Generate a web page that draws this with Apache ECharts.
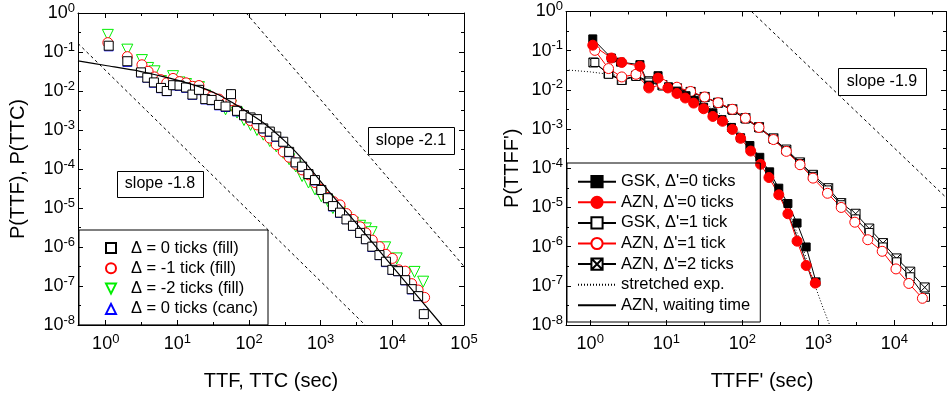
<!DOCTYPE html>
<html><head><meta charset="utf-8">
<script src="https://cdn.jsdelivr.net/npm/echarts@6/dist/echarts.min.js"></script>
<style>html,body{margin:0;padding:0;background:#fff}#c{width:948px;height:396px}</style>
</head><body><div id="c"></div>
<script>
// ---------- Left panel data ----------
const fill0X = [1.1,2.0,3.1,3.8,4.7,5.9,7.1,8.7,10.7,13.2,16.2,20,24.5,30,38,47,56,68,85,105,129,158,195,240,300,363,447,550,676,832,1020,1260,1480,1860,2290,2820,3550,4270,5250,6610,8130,10000,12000,15100,18600,22900,27500];
const fill0Y = [0.145,0.058,0.030,0.022,0.0166,0.012,0.010,0.0141,0.0138,0.0123,0.0081,0.0107,0.0062,0.0059,0.0044,0.0040,0.0083,0.0031,0.0024,0.0021,0.0019,0.0011,9.1e-4,6.8e-4,5.0e-4,2.75e-4,1.48e-4,1.15e-4,7.4e-5,5.2e-5,2.9e-5,1.78e-5,1.12e-5,7.6e-6,5.1e-6,3.5e-6,2.3e-6,1.58e-6,1.02e-6,6.2e-7,4.2e-7,2.6e-7,2.4e-7,1.41e-7,8.3e-8,5.5e-8,1.9e-8];
const fill1X = [1.07,2.0,3.2,3.9,4.8,5.9,7.1,8.7,10.7,13.2,16.2,20,24.5,30,38,47,56,68,85,105,129,158,195,240,300,363,447,550,676,832,1020,1260,1510,1860,2290,2820,3550,4270,5250,6610,8130,10000,12300,15100,18600,22900,28200];
const fill1Y = [0.174,0.076,0.047,0.032,0.023,0.0195,0.0162,0.021,0.0174,0.0162,0.0132,0.0138,0.0081,0.0071,0.0062,0.0048,0.0056,0.0032,0.0024,0.00174,0.00135,9.1e-4,6.2e-4,4.2e-4,2.75e-4,2.0e-4,1.32e-4,9.5e-5,7.1e-5,4.5e-5,3.0e-5,1.86e-5,1.45e-5,1.2e-5,7.2e-6,5.1e-6,3.3e-6,2.3e-6,1.5e-6,1.02e-6,6.5e-7,5.1e-7,2.6e-7,2.4e-7,1.15e-7,7.9e-8,5.1e-8];
const fill2X = [1.07,2.0,3.2,3.9,4.8,5.9,7.1,8.7,10.7,13.2,16.2,20,24.5,30,38,47,56,68,85,105,129,158,195,240,300,363,447,550,676,832,1020,1260,1480,1860,2290,2820,3550,4270,5130,7940,11500,20400,26900];
const fill2Y = [0.275,0.115,0.062,0.039,0.032,0.018,0.0148,0.024,0.0166,0.0151,0.012,0.0126,0.0076,0.006,0.0047,0.0034,0.0042,0.0028,0.0018,0.00135,0.001,7.6e-4,5.2e-4,3.8e-4,2.6e-4,1.78e-4,1.17e-4,6.6e-5,4.5e-5,3.0e-5,2.0e-5,1.5e-5,1.0e-5,7.9e-6,5.6e-6,4.2e-6,3.5e-6,3.0e-6,2.4e-6,9.8e-7,5.1e-7,2.3e-7,1.29e-7];
const canc0X = [1.1,2.0,3.1,3.8,4.7,5.9,7.1,8.7,10.7,13.2,16.2,20,24.5,30,38,47,56,68,85,105,129,158,195,240,300,363,447,550,676,832,1020,1260,1480,1860,2290,2820,3550,4270,5250,6610,8130,10000,12000,15100,18600,22900,27500];
const canc0Y = [0.14,0.056,0.030,0.022,0.0163,0.0118,0.0099,0.014,0.0136,0.0121,0.008,0.0105,0.0061,0.0058,0.0043,0.0039,0.0085,0.003,0.0024,0.0021,0.0019,0.0011,9e-4,6.7e-4,5.1e-4,2.7e-4,1.5e-4,1.15e-4,7.5e-5,5.1e-5,2.9e-5,1.8e-5,1.1e-5,7.5e-6,5.2e-6,3.5e-6,2.3e-6,1.6e-6,1.0e-6,6.2e-7,4.1e-7,2.6e-7,2.4e-7,1.4e-7,8.2e-8,5.5e-8,2.0e-8];
const fitX = [0.41,1,3,8,20,35,60,100,174,316,513,1500,3160,10000,49000];
const fitY = [0.059,0.045,0.032,0.021,0.0129,0.0085,0.0049,0.0027,0.00135,5.2e-4,2.1e-4,1.95e-5,4.0e-6,3.2e-7,1e-8];
const slope18X = [0.41,4170], slope18Y = [0.166,1e-8];
const slope21X = [91,100000], slope21Y = [1,3.2e-7];

// ---------- Right panel data ----------
const gsk0X = [1.08,1.9,2.5,4.5,5.9,7.8,10.7,13.8,18.2,23.4,31,41,54,72,95,126,170,229,302,398,525,692,933];
const gsk0Y = [0.20,0.065,0.051,0.044,0.0132,0.023,0.012,0.0093,0.0071,0.0054,0.0036,0.0026,0.00174,0.0011,6.0e-4,3.8e-4,1.9e-4,8.1e-5,3.1e-5,1.26e-5,4.0e-6,9.8e-7,1.26e-7];
const azn0X = [1.08,1.9,2.6,4.5,5.9,7.8,10.5,13.8,17.8,22.9,31,41,55,74,95,129,174,224,302,398,525,692,912];
const azn0Y = [0.138,0.065,0.050,0.040,0.0117,0.020,0.0112,0.0081,0.0062,0.0046,0.0033,0.0021,0.00158,9.8e-4,5.8e-4,2.75e-4,1.26e-4,5.8e-5,2.1e-5,6.9e-6,1.38e-6,3.3e-7,1.17e-7];
const gsk1X = [1.15,1.74,2.6,4.0,5.9,8.9,13.8,20.9,32,48,74,110,166,257,380,575,851,1320,2000,3090,4680,7080,10700,16200,25700];
const gsk1Y = [0.05,0.025,0.0174,0.022,0.0158,0.0126,0.0105,0.0087,0.0065,0.0046,0.0030,0.0018,0.00107,5.5e-4,2.8e-4,1.32e-4,6.2e-5,2.8e-5,1.17e-5,5.1e-6,2.3e-6,9.8e-7,4.1e-7,1.7e-7,5.1e-8];
const azn1X = [1.15,1.74,2.6,4.0,5.9,8.9,13.8,20.9,32,48,74,110,166,257,380,575,851,1320,2000,3020,4470,6920,10500,15500,23400];
const azn1Y = [0.102,0.035,0.0214,0.025,0.0112,0.0138,0.0117,0.0091,0.0066,0.0047,0.0032,0.0019,0.0011,5.4e-4,2.7e-4,1.23e-4,5.6e-5,2.3e-5,1.0e-5,4.2e-6,1.5e-6,7.6e-7,2.7e-7,1.15e-7,4.8e-8];
const azn2X = [1.1,1.74,2.6,4.0,5.9,8.9,13.8,20.9,32,48,74,110,166,257,380,575,851,1350,2000,3090,4680,7080,10700,16200,25100];
const azn2Y = [0.050,0.026,0.018,0.023,0.0166,0.0132,0.011,0.0089,0.0066,0.0047,0.0032,0.0019,0.00112,5.8e-4,3.0e-4,1.41e-4,6.8e-5,3.1e-5,1.29e-5,6.9e-6,2.9e-6,1.23e-6,5.0e-7,2.3e-7,9.1e-8];
const stretchX = [0.48,1,2.5,5.9,11.2,20,31,50,85,155,229,309,417,631,851,1120,1410];
const stretchY = [0.0324,0.0288,0.0229,0.017,0.0123,0.0079,0.0048,0.0025,0.001,2.5e-4,7.9e-5,2.7e-5,7.1e-6,8.9e-7,1.41e-7,3.2e-8,1e-8];
const waitX = [7.1,11.2,31,85,155,229,309,417,631,851];
const waitY = [0.0158,0.0132,0.0042,8.7e-4,2.2e-4,6.5e-5,2.2e-5,5.6e-6,6.6e-7,1.15e-7];
const slope19X = [132,47800], slope19Y = [1,1.8e-5];

// ---------- Axis ticks ----------
const xMajorL = [1,10,100,1000,10000,100000];
const xMinorL = [3.162,31.62,316.2,3162,31623];
const xMajorR = [1,10,100,1000,10000];
const xMinorR = [3.162,31.62,316.2,3162,31623];
const yMajor = [1e-8,1e-7,1e-6,1e-5,1e-4,1e-3,1e-2,1e-1,1];
const yMinor = [3.162e-8,3.162e-7,3.162e-6,3.162e-5,3.162e-4,3.162e-3,3.162e-2,3.162e-1];

const names = {
  left: ['Δ = 0 ticks (fill)','Δ = -1 tick (fill)','Δ = -2 ticks (fill)','Δ = 0 ticks (canc)'],
  right: ["GSK, Δ'=0 ticks","AZN, Δ'=0 ticks","GSK, Δ'=1 tick","AZN, Δ'=1 tick","AZN, Δ'=2 ticks","stretched exp.","AZN, waiting time"]
};
const titles = {lx:'TTF, TTC (sec)', ly:'P(TTF), P(TTC)', rx:"TTFF' (sec)", ry:"P(TTFF')"};
const slopes = ['slope -1.8','slope -2.1','slope -1.9'];

// ---------- build ----------
const FONT = 'Liberation Sans';
const zip = (xs, ys) => xs.map((x, i) => [x, ys[i]]);
const fmt = v => '{b|10}{s|' + Math.round(Math.log10(v)) + '}';
const rich = {
  b: {fontSize: 18, fontFamily: FONT, color: '#000'},
  s: {fontSize: 13, fontFamily: FONT, color: '#000', padding: [0, 0, 10, 0]}
};
const blk = {color: '#000', width: 1};

function axisSet(dim, gi, min, max, majors, minors, name, nameGap, namePad) {
  const base = {type: 'log', logBase: 10, gridIndex: gi, min: min, max: max,
    splitLine: {show: false}, axisLine: {show: false}, axisLabel: {show: false},
    axisTick: {show: false}, silent: true};
  const lo = dim === 'x' ? 'bottom' : 'left';
  const hi = dim === 'x' ? 'top' : 'right';
  return [
    Object.assign({}, base, {position: lo,
      axisLine: {show: true, onZero: false, lineStyle: blk},
      axisTick: {show: true, inside: true, length: 5, customValues: majors, lineStyle: blk},
      axisLabel: {show: true, customValues: majors, formatter: fmt, rich: rich, margin: dim === 'x' ? 8 : 3},
      name: name, nameLocation: 'middle', nameGap: nameGap,
      nameTextStyle: {fontSize: 20, fontFamily: FONT, color: '#000', padding: namePad || 0}}),
    Object.assign({}, base, {position: lo,
      axisTick: {show: true, inside: true, length: 3, customValues: minors, lineStyle: blk}}),
    Object.assign({}, base, {position: hi,
      axisLine: {show: true, onZero: false, lineStyle: blk},
      axisTick: {show: true, inside: true, length: 5, customValues: majors, lineStyle: blk}}),
    Object.assign({}, base, {position: hi,
      axisTick: {show: true, inside: true, length: 3, customValues: minors, lineStyle: blk}})
  ];
}

const xAxes = [].concat(
  axisSet('x', 0, 0.41, 100000, xMajorL, xMinorL, titles.lx, 46),
  axisSet('x', 1, 0.48, 47800, xMajorR, xMinorR, titles.rx, 46, [0, 0, 0, 12])
);
const yAxes = [].concat(
  axisSet('y', 0, 1e-8, 1, yMajor, yMinor, titles.ly, 50),
  axisSet('y', 1, 1e-8, 1, yMajor, yMinor, titles.ry, 44)
);

const downTri = 'path://M0 0L10 0L5 10Z';
const crossSq = 'path://M0 0H10V10H0Z M0 0L10 10 M10 0L0 10';

function scatter(name, xs, ys, symbol, size, color) {
  return {name: name, type: 'scatter', xAxisIndex: 0, yAxisIndex: 0, data: zip(xs, ys),
    symbol: symbol, symbolSize: size,
    itemStyle: {color: '#fff', borderColor: color, borderWidth: 1, opacity: 1},
    emphasis: {disabled: true}};
}
function lineSer(name, xs, ys, symbol, size, color, fillc, gi) {
  return {name: name, type: 'line', xAxisIndex: gi * 4, yAxisIndex: gi * 4, data: zip(xs, ys),
    symbol: symbol, symbolSize: size, showSymbol: true, showAllSymbol: true,
    lineStyle: {color: color, width: 1}, itemStyle: {color: fillc, borderColor: color, borderWidth: 1},
    emphasis: {disabled: true}};
}
function plainLine(name, xs, ys, type, gi, smooth, width) {
  return {name: name, type: 'line', xAxisIndex: gi * 4, yAxisIndex: gi * 4, data: zip(xs, ys),
    symbol: 'circle', symbolSize: 0, showSymbol: false, smooth: smooth || false,
    lineStyle: {color: '#000', width: width || 1, type: type},
    itemStyle: {color: 'rgba(0,0,0,0)', borderColor: 'rgba(0,0,0,0)', borderWidth: 0},
    emphasis: {disabled: true}};
}

const series = [
  plainLine('s18', slope18X, slope18Y, [3, 3], 0),
  plainLine('s21', slope21X, slope21Y, [3, 3], 0),
  scatter(names.left[2], fill2X, fill2Y, downTri, 11, '#00ee00'),
  scatter(names.left[1], fill1X, fill1Y, 'circle', 10, '#ff0000'),
  scatter(names.left[3], canc0X, canc0Y, 'triangle', 9, '#0000ff'),
  scatter(names.left[0], fill0X, fill0Y, 'rect', 9, '#000000'),
  plainLine('fit', fitX, fitY, 'solid', 0, 0.25, 1.2),
  plainLine('s19', slope19X, slope19Y, [3, 3], 1),
  plainLine(names.right[5], stretchX, stretchY, [1, 2], 1),
  plainLine(names.right[6], waitX, waitY, 'solid', 1, 0.3),
  lineSer(names.right[4], azn2X, azn2Y, crossSq, 9, '#000', '#fff', 1),
  lineSer(names.right[2], gsk1X, gsk1Y, 'rect', 8, '#000', '#fff', 1),
  lineSer(names.right[3], azn1X, azn1Y, 'circle', 10, '#ff0000', '#fff', 1),
  lineSer(names.right[0], gsk0X, gsk0Y, 'rect', 8, '#000', '#000', 1),
  lineSer(names.right[1], azn0X, azn0Y, 'circle', 10, '#ff0000', '#ff0000', 1)
];

function box(x, y, w, h, text) {
  return [
    {type: 'rect', z: 100, shape: {x: x + 0.5, y: y + 0.5, width: w, height: h},
      style: {fill: '#fff', stroke: '#000', lineWidth: 1}},
    {type: 'text', z: 101, x: x + w / 2, y: y + h / 2,
      style: {text: text, fill: '#000', font: '16px "' + FONT + '"',
        align: 'center', verticalAlign: 'middle', textAlign: 'center', textVerticalAlign: 'middle'}}
  ];
}

const leftIcons = ['rect', 'circle', downTri, 'triangle'];
const option = {
  animation: false,
  backgroundColor: '#fff',
  grid: [
    {left: 78, top: 13, width: 386, height: 312},
    {left: 566, top: 9, width: 380, height: 316}
  ],
  xAxis: xAxes,
  yAxis: yAxes,
  legend: [
    {data: names.left.map((n, i) => ({name: n, icon: leftIcons[i]})),
      orient: 'vertical', left: 79, top: 230, itemWidth: 10, itemHeight: 10,
      itemGap: 3.3, padding: [9.5, 10, 7.5, 26], borderColor: '#000', borderWidth: 1,
      selectedMode: false,
      textStyle: {fontSize: 16.5, lineHeight: 17, fontFamily: FONT, color: '#000', padding: [0, 0, 0, 10]}},
    {data: names.right, orient: 'vertical', left: 567, top: 163, itemWidth: 38, itemHeight: 14,
      itemGap: 3.6, padding: [10.2, 10, 8.2, 10], borderColor: '#000', borderWidth: 1,
      selectedMode: false, textStyle: {fontSize: 16.5, lineHeight: 17, fontFamily: FONT, color: '#000'}}
  ],
  graphic: [].concat(
    box(117, 171, 86, 26, slopes[0]),
    box(368, 127, 86, 27, slopes[1]),
    box(838, 68, 88, 27, slopes[2])
  ),
  series: series
};

const chart = echarts.init(document.getElementById('c'), null, {renderer: 'canvas'});
chart.setOption(option);
</script>
</body></html>
